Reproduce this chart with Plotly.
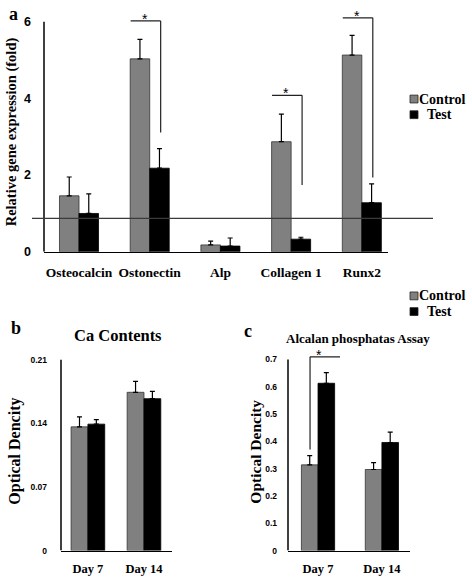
import plotly.graph_objects as go

W, H = 472, 584

# ---------------- data ----------------
genes = ["Osteocalcin", "Ostonectin", "Alp", "Collagen 1", "Runx2"]
gene_control = [1.46, 5.03, 0.18, 2.87, 5.13]
gene_control_err = [0.49, 0.51, 0.10, 0.72, 0.51]
gene_test = [1.00, 2.18, 0.15, 0.33, 1.28]
gene_test_err = [0.51, 0.51, 0.21, 0.05, 0.49]
gene_baseline = 0.87
gene_ticks = [0, 2, 4, 6]
# significance: (category index, bracket top, drop-line bottom)
gene_sig = [(1, 6.02, 3.11), (3, 4.08, 1.74), (4, 6.10, 1.94)]

days = ["Day 7", "Day 14"]
ca_control = [0.136, 0.174]
ca_control_err = [0.011, 0.012]
ca_test = [0.139, 0.167]
ca_test_err = [0.005, 0.008]
ca_ticks = [0, 0.07, 0.14, 0.21]
ca_ticktext = ["0", "0.07", "0.14", "0.21"]

alp_control = [0.314, 0.297]
alp_control_err = [0.034, 0.025]
alp_test = [0.613, 0.396]
alp_test_err = [0.039, 0.038]
alp_ticks = [0, 0.1, 0.2, 0.3, 0.4, 0.5, 0.6, 0.7]
alp_ticktext = ["0", "0.1", "0.2", "0.3", "0.4", "0.5", "0.6", "0.7"]
alp_sig = [(0, 0.71, 0.37)]

# ---------------- style ----------------
SERIF = "Liberation Serif"
SANS = "Liberation Sans"
C_CTRL = "#808080"
C_TEST = "#000000"

def px(x):
    return x / W

def py(y):
    return 1 - y / H

fig = go.Figure()

def add_pair(xref, yref, cats, c, ce, t, te, w):
    fig.add_trace(go.Bar(
        x=cats, y=c, width=w, offset=-w, xaxis=xref, yaxis=yref,
        marker=dict(color=C_CTRL, line=dict(color="#333333", width=0.8)),
        error_y=dict(type="data", array=ce, arrayminus=[0] * len(ce), symmetric=False,
                     color="black", thickness=1.2, width=2.5),
        showlegend=False, name="Control"))
    fig.add_trace(go.Bar(
        x=cats, y=t, width=w, offset=0, xaxis=xref, yaxis=yref,
        marker=dict(color=C_TEST, line=dict(color="#000000", width=0.8)),
        error_y=dict(type="data", array=te, arrayminus=[0] * len(te), symmetric=False,
                     color="black", thickness=1.2, width=2.5),
        showlegend=False, name="Test"))

add_pair("x", "y", genes, gene_control, gene_control_err, gene_test, gene_test_err, 0.276)
add_pair("x2", "y2", days, ca_control, ca_control_err, ca_test, ca_test_err, 0.30)
add_pair("x3", "y3", days, alp_control, alp_control_err, alp_test, alp_test_err, 0.26)

xcommon = dict(type="category", showline=True, linecolor="black", linewidth=1.5,
               showgrid=False, zeroline=False, ticks="", fixedrange=True)
ycommon = dict(showgrid=False, zeroline=False, ticks="", showline=False, fixedrange=True)

fig.update_layout(
    width=W, height=H, margin=dict(l=0, r=0, t=0, b=0),
    paper_bgcolor="white", plot_bgcolor="white", barmode="overlay",
    xaxis=dict(**xcommon, domain=[px(44), px(388)], range=[-0.495, 4.37],
               anchor="y", ticklabelstandoff=7,
               tickfont=dict(family=SERIF, size=13.5, color="black", weight="bold")),
    yaxis=dict(**ycommon, domain=[py(252), py(3.3)], range=[0, 6.35], anchor="x",
               tickvals=gene_ticks, ticklabelstandoff=12,
               tickfont=dict(family=SANS, size=12.5, color="black", weight="bold")),
    xaxis2=dict(**xcommon, domain=[px(61), px(172)], range=[-0.48, 1.5],
                anchor="y2", ticklabelstandoff=6,
                tickfont=dict(family=SERIF, size=12.5, color="black", weight="bold")),
    yaxis2=dict(**ycommon, domain=[py(557), py(362)], range=[0, 0.21], anchor="x2",
                tickvals=ca_ticks, ticktext=ca_ticktext, ticklabelstandoff=13,
                tickfont=dict(family=SANS, size=8.5, color="black", weight="bold")),
    xaxis3=dict(**xcommon, domain=[px(288), px(410)], range=[-0.47, 1.44],
                anchor="y3", ticklabelstandoff=6,
                tickfont=dict(family=SERIF, size=12.5, color="black", weight="bold")),
    yaxis3=dict(**ycommon, domain=[py(557), py(350.8)], range=[0, 0.74], anchor="x3",
                tickvals=alp_ticks, ticktext=alp_ticktext, ticklabelstandoff=10,
                tickfont=dict(family=SANS, size=8.5, color="black", weight="bold")),
)

shapes = []
# y-axis lines
shapes.append(dict(type="line", xref="paper", yref="y", x0=px(44), x1=px(44),
                   y0=0, y1=gene_ticks[-1], line=dict(color="black", width=1.5)))
shapes.append(dict(type="line", xref="paper", yref="y2", x0=px(61), x1=px(61),
                   y0=0, y1=ca_ticks[-1], line=dict(color="black", width=1.5)))
shapes.append(dict(type="line", xref="paper", yref="y3", x0=px(288), x1=px(288),
                   y0=0, y1=alp_ticks[-1], line=dict(color="black", width=1.5)))
# baseline in panel a
shapes.append(dict(type="line", xref="paper", yref="y", x0=px(32), x1=px(433),
                   y0=gene_baseline, y1=gene_baseline, line=dict(color="#3a3a3a", width=1.3)))

annotations = []
# significance brackets panel a
for i, top, bot in gene_sig:
    xl, xr = i - 0.27, i + 0.155
    shapes.append(dict(type="line", xref="x", yref="y", x0=xl, x1=xr, y0=top, y1=top,
                       line=dict(color="#222", width=1.2)))
    shapes.append(dict(type="line", xref="x", yref="y", x0=xr, x1=xr, y0=top, y1=bot,
                       line=dict(color="#222", width=1.2)))
    annotations.append(dict(xref="x", yref="y", x=i - 0.07, y=top, text="*", showarrow=False,
                            yanchor="bottom", yshift=-7, borderpad=0,
                            font=dict(family=SANS, size=14, color="black")))
# significance bracket panel c
for i, top, bot in alp_sig:
    xl, xr = i - 0.125, i + 0.344
    shapes.append(dict(type="line", xref="x3", yref="y3", x0=xl, x1=xr, y0=top, y1=top,
                       line=dict(color="#222", width=1.2)))
    shapes.append(dict(type="line", xref="x3", yref="y3", x0=xl, x1=xl, y0=top, y1=bot,
                       line=dict(color="#222", width=1.2)))
    annotations.append(dict(xref="x3", yref="y3", x=i + 0.016, y=top, text="*", showarrow=False,
                            yanchor="bottom", yshift=-7, borderpad=0,
                            font=dict(family=SANS, size=14, color="black")))

# legends (manual)
def legend(x_sq, y_ctrl, y_test):
    for yc, col, lab, tx in [(y_ctrl, C_CTRL, "Control", 418), (y_test, C_TEST, "Test", 426)]:
        shapes.append(dict(type="rect", xref="paper", yref="paper",
                           x0=px(x_sq), x1=px(x_sq + 8), y0=py(yc + 4), y1=py(yc - 4),
                           fillcolor=col, line=dict(color="#222", width=0.8)))
        annotations.append(dict(xref="paper", yref="paper", x=px(tx), y=py(yc), text=lab,
                                showarrow=False, xanchor="left", yanchor="middle", borderpad=0,
                                font=dict(family=SERIF, size=14, color="black", weight="bold")))

legend(410, 96, 112)
legend(410, 297, 313)

def text(x, y, s, size, angle=0, anchor="center", fam=SERIF):
    annotations.append(dict(xref="paper", yref="paper", x=px(x), y=py(y), text=s,
                            showarrow=False, xanchor=anchor, yanchor="middle", textangle=angle,
                            borderpad=0,
                            font=dict(family=fam, size=size, color="black", weight="bold")))

text(8, 9, "a", 18, anchor="left")
text(10, 330, "b", 18, anchor="left")
text(243, 333, "c", 18, anchor="left")
text(11, 130, "Relative gene expression (fold)", 14.5, angle=-90)
text(15, 456, "Optical Dencity", 16, angle=-90)
text(256, 456, "Optical Dencity", 15.5, angle=-90)
text(118, 337, "Ca Contents", 16.5)
text(358, 341, "Alcalan phosphatas Assay", 13)

fig.update_layout(shapes=shapes, annotations=annotations)
# remove the browser's default 8px body margin so the figure sits at the page origin
fig.write_html("out.html", config={"displayModeBar": False, "staticPlot": True},
               post_script="document.body.style.margin='0px';")
